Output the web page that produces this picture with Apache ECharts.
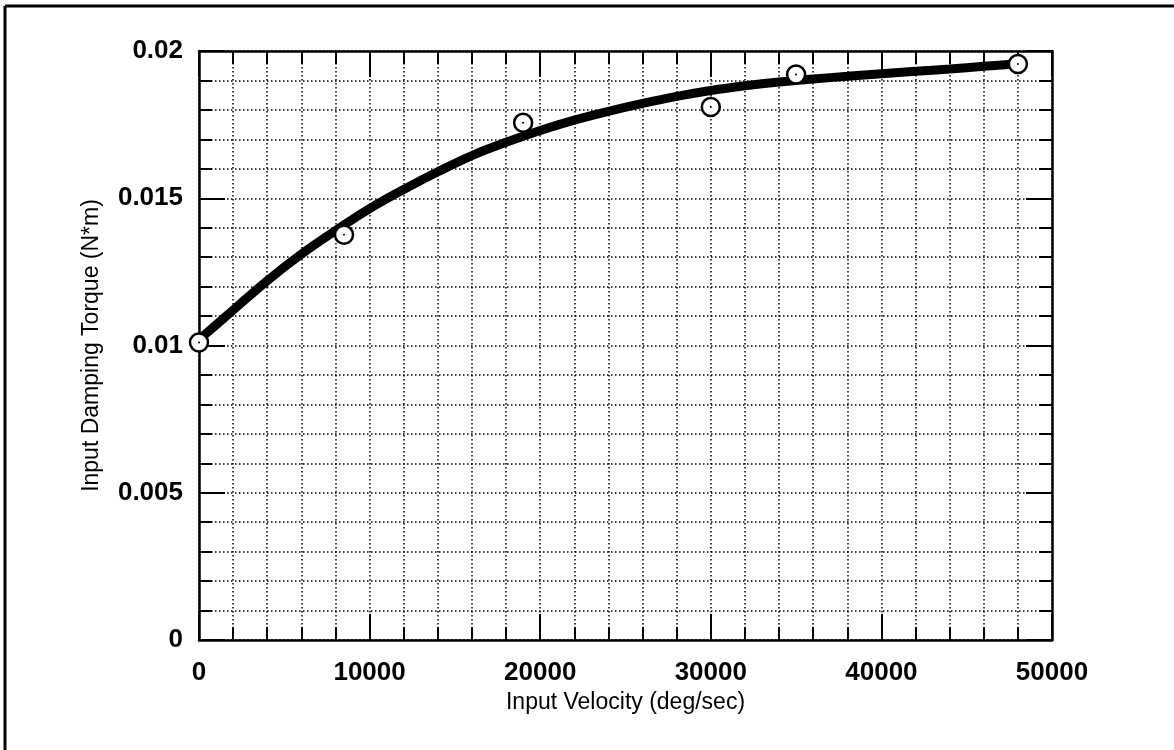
<!DOCTYPE html>
<html>
<head>
<meta charset="utf-8">
<script src="https://cdn.jsdelivr.net/npm/echarts@6/dist/echarts.min.js"></script>
<style>
html,body{margin:0;padding:0;background:#fff;}
#main{width:1174px;height:750px;}
</style>
</head>
<body>
<div id="main"></div>
<script>
// measured points
var measVel = [0, 8500, 19000, 30000, 35000, 48000];
var measTorque = [0.0101, 0.01376, 0.01756, 0.0181, 0.0192, 0.01956];

// fitted curve
var fitVel = [0, 2000, 4000, 6000, 8000, 10000, 12000, 14000, 16000, 18000, 20000, 22000, 24000,
    26000, 28000, 30000, 32000, 34000, 36000, 38000, 40000, 42000, 44000, 46000, 48000];
var fitTorque = [0.0102, 0.0112, 0.0122, 0.0131, 0.0139, 0.01465, 0.0153, 0.0159, 0.01645, 0.0169, 0.0173, 0.01765, 0.01795,
    0.01822, 0.01846, 0.01866, 0.01882, 0.01895, 0.01905, 0.01914, 0.01923, 0.01931, 0.01939, 0.01948, 0.01957];

var xTicks = [0, 10000, 20000, 30000, 40000, 50000];
var yTicks = [0, 0.005, 0.01, 0.015, 0.02];

var dom = document.getElementById("main");
var myChart = echarts.init(dom);

var ff = '"Liberation Sans", Arial, sans-serif';
var dots = {color: '#000', width: 1.5, type: [1.5, 2.5]};

function mkX(pos, showLabel) {
    return {
        type: 'value', position: pos,
        min: xTicks[0], max: xTicks[xTicks.length - 1], interval: 10000,
        name: showLabel ? 'Input Velocity (deg/sec)' : '',
        nameLocation: 'middle', nameGap: 40,
        nameTextStyle: {color: '#000', fontSize: 23, fontFamily: ff},
        axisLine: {show: true, onZero: false, lineStyle: {color: '#000', width: 2.5}},
        axisTick: {show: true, inside: true, length: 26, lineStyle: {color: '#000', width: 2}},
        minorTick: {show: true, splitNumber: 5, length: 13, lineStyle: {color: '#000', width: 2}},
        axisLabel: {show: showLabel, margin: 20, color: '#000', fontSize: 26, fontWeight: 'bold', fontFamily: ff,
            formatter: function (v) { return String(v); }},
        splitLine: {show: showLabel, lineStyle: dots},
        minorSplitLine: {show: showLabel, lineStyle: dots}
    };
}

function mkY(pos, showLabel) {
    return {
        type: 'value', position: pos,
        min: yTicks[0], max: yTicks[yTicks.length - 1], interval: 0.005,
        name: showLabel ? 'Input Damping Torque (N*m)' : '',
        nameLocation: 'middle', nameGap: 96,
        nameTextStyle: {color: '#000', fontSize: 23, fontFamily: ff},
        axisLine: {show: true, onZero: false, lineStyle: {color: '#000', width: 2.5}},
        axisTick: {show: true, inside: true, length: 26, lineStyle: {color: '#000', width: 2}},
        minorTick: {show: true, splitNumber: 5, length: 13, lineStyle: {color: '#000', width: 2}},
        axisLabel: {show: showLabel, margin: 16, color: '#000', fontSize: 26, fontWeight: 'bold', fontFamily: ff},
        splitLine: {show: showLabel, lineStyle: dots},
        minorSplitLine: {show: showLabel, lineStyle: dots}
    };
}

var fitData = fitVel.map(function (v, i) { return [v, fitTorque[i]]; });
var measData = measVel.map(function (v, i) { return [v, measTorque[i]]; });

var option = {
    backgroundColor: '#fff',
    animation: false,
    grid: {left: 199, right: 122, top: 51, bottom: 110},
    xAxis: [mkX('bottom', true), mkX('top', false)],
    yAxis: [mkY('left', true), mkY('right', false)],
    graphic: [
        {type: 'line', shape: {x1: 5, y1: 6, x2: 1174, y2: 6}, style: {stroke: '#000', lineWidth: 3}},
        {type: 'line', shape: {x1: 5, y1: 6, x2: 5, y2: 750}, style: {stroke: '#000', lineWidth: 3}}
    ],
    series: [
        {
            type: 'line', data: fitData, smooth: 0.4, symbol: 'none',
            lineStyle: {color: '#000', width: 9}, z: 3
        },
        {
            type: 'scatter', data: measData, symbol: 'circle', symbolSize: 18,
            itemStyle: {color: '#fff', borderColor: '#000', borderWidth: 2.5, opacity: 1}, z: 4
        },
        {
            // small centre dot of each marker
            type: 'scatter', data: measData, symbol: 'circle', symbolSize: 2,
            itemStyle: {color: '#000', opacity: 1}, z: 5
        }
    ]
};

myChart.setOption(option);
window.onresize = function () {
    myChart.resize();
};
</script>
</body>
</html>
